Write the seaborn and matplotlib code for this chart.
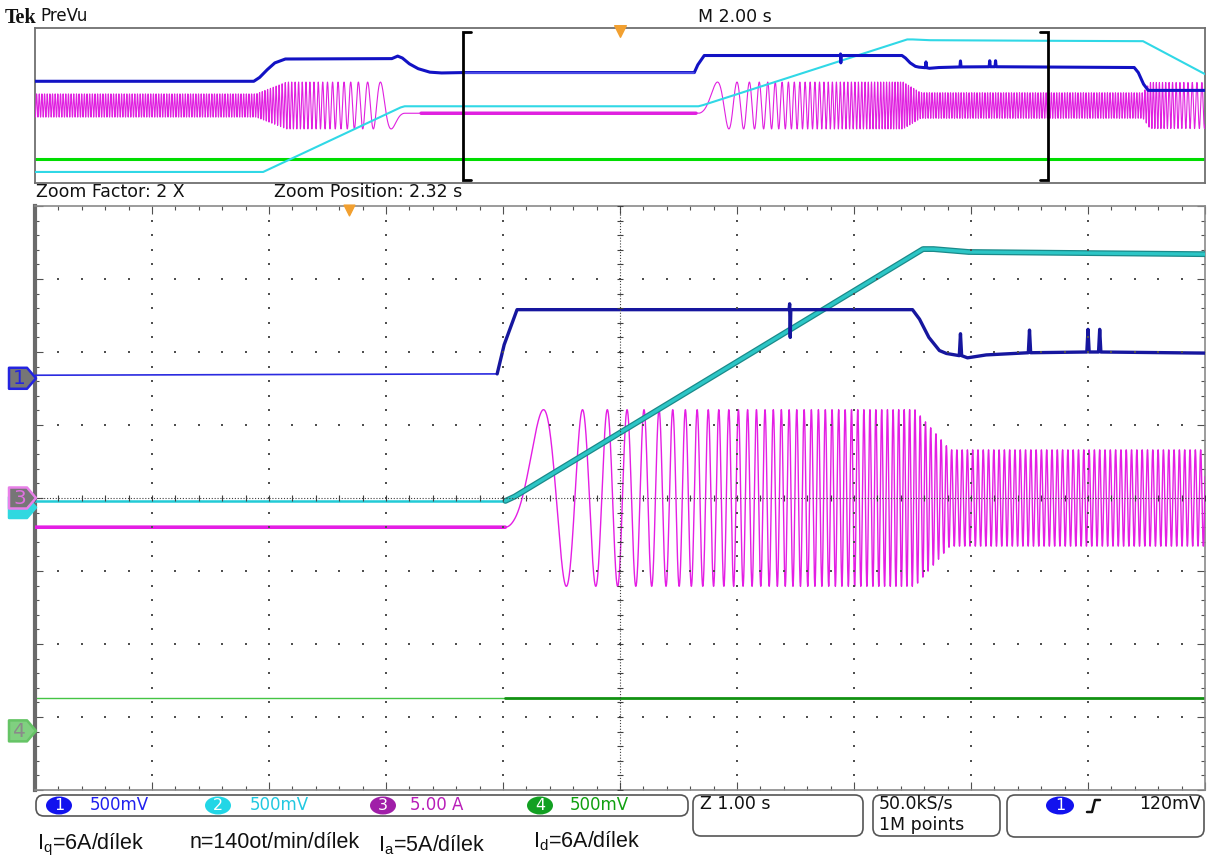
import numpy as np
import matplotlib
matplotlib.use("Agg")
import matplotlib.pyplot as plt
import matplotlib.patheffects as pe
from matplotlib.patches import FancyBboxPatch, Ellipse, Polygon
import seaborn as sns

# ------------------------------------------------------------------ data
# time in seconds (whole record 0..20 s, trigger at 10 s); levels in screen divisions
record_len = 20.0
trig_t = 10.0
overview_scale = 2.00      # s/div  (M 2.00 s)
main_scale = 1.00          # s/div  (Z 1.00 s)
zoom_factor = 2
zoom_position = 2.32       # s

# channel 1 (Iq, dark blue)
blue_t = [0.0, 3.74, 3.84, 3.97, 4.10, 4.28, 6.10, 6.20, 6.28, 6.40, 6.55, 6.75, 6.95,
          11.27, 11.33, 11.44, 13.765, 13.77, 13.775, 13.78, 14.82, 14.88, 14.96, 15.05,
          15.11, 15.22, 15.23, 15.24, 15.29, 15.45, 15.81, 15.82, 15.83, 16.31, 16.32,
          16.33, 16.41, 16.42, 16.43, 18.79, 18.86, 18.95, 19.03, 20.0]
blue_v = [1.25, 1.25, 1.45, 1.85, 2.20, 2.40, 2.42, 2.55, 2.45, 2.15, 1.90, 1.72, 1.68,
          1.70, 2.10, 2.58, 2.58, 2.66, 2.20, 2.58, 2.58, 2.45, 2.20, 2.02,
          1.98, 1.95, 2.25, 1.95, 1.92, 1.96, 1.99, 2.30, 1.99, 2.00, 2.31,
          2.00, 2.00, 2.31, 2.00, 1.96, 1.70, 1.10, 0.78, 0.78]

# channel 2 (speed n, cyan)
cyan_t = [0.0, 3.90, 6.25, 6.32, 11.34, 11.42, 14.91, 15.00, 15.30, 17.32, 18.94, 20.0]
cyan_v = [-3.43, -3.43, -0.10, -0.04, -0.04, 0.02, 3.41, 3.41, 3.37, 3.34, 3.32, 1.62]

# channel 4 (Id, green); noisy after the start at 11.34 s
green_t = [0.0, 11.34, 20.0]
green_v = [-2.74, -2.74, -2.74]

# channel 3 (phase current Ia, magenta): amplitude envelope and read-off constants
mag_env_t = [0.0, 3.78, 4.30, 14.84, 15.14, 18.94, 19.06, 20.0]
mag_env_a = [0.60, 0.60, 1.21, 1.21, 0.66, 0.66, 1.19, 1.19]
mag_rest = -0.40           # level while the motor stands still
mag_hz_per_div = 6.5       # electrical Hz per division of the speed trace
speed_zero = -0.04         # speed trace level at standstill
t_still = 9.0

# channel ground markers at the left edge (label, level in divisions)
marker_names = ["", "1", "3", "4"]
marker_levels = [-0.13, 1.64, 0.0, -3.19]
marker_face = ["#30d8e0", "#767676", "#767676", "#80d080"]
marker_edge = ["#30d8e0", "#2424e0", "#e880e8", "#66c466"]
marker_txt = ["#30d8e0", "#2424e0", "#e070e0", "#8a8a8a"]

# status bar
ch_labels = ["1", "2", "3", "4"]
ch_scales = ["500mV", "500mV", "5.00 A", "500mV"]
ch_badge = ["#1212ee", "#22d6e6", "#a01ea8", "#12a022"]
ch_text = ["#2020ee", "#22c8e0", "#b81eb8", "#10a010"]
sample_rate = "50.0kS/s"
record_pts = "1M points"
trig_level = "120mV"
notes = [r"I$_{\mathrm{q}}$=6A/dílek", "n=140ot/min/dílek",
         r"I$_{\mathrm{a}}$=5A/dílek", r"I$_{\mathrm{d}}$=6A/dílek"]

# ------------------------------------------------------------------ derived magenta trace
tg = np.linspace(0.0, record_len, 40001)
dtg = tg[1] - tg[0]
speed = np.interp(tg, cyan_t, cyan_v) - speed_zero
cum = np.cumsum(speed) * dtg
cum -= np.interp(t_still, tg, cum)
amp = np.interp(tg, mag_env_t, mag_env_a)
a_still = np.interp(t_still, mag_env_t, mag_env_a)
phi_acc = np.arcsin(mag_rest / a_still)
phi_dec = np.pi - phi_acc
phase = np.where(tg < t_still, phi_dec, phi_acc) + 2 * np.pi * mag_hz_per_div * cum
mag = amp * np.sin(phase)

win_c = trig_t + zoom_position
win0 = win_c - 5 * main_scale
win1 = win_c + 5 * main_scale

# ------------------------------------------------------------------ figure
sns.set_theme(style="white")
plt.rcParams["font.family"] = ["DejaVu Sans"]
plt.rcParams["mathtext.fontset"] = "custom"
plt.rcParams["mathtext.rm"] = "Liberation Sans"
plt.rcParams["mathtext.it"] = "Liberation Sans:italic"

W, H = 1211, 856
fig = plt.figure(figsize=(W / 100, H / 100), dpi=100)
fig.patch.set_facecolor("white")

MAIN_PX = (35, 206, 1205, 790)
OV_PX = (35, 28, 1205, 183)


def fig_axes(x0, y0, x1, y1):
    return fig.add_axes([x0 / W, 1 - y1 / H, (x1 - x0) / W, (y1 - y0) / H])


ax_ov = fig_axes(*OV_PX)
ax = fig_axes(*MAIN_PX)


def trace(axis, t, v, color, lw, z, **kw):
    sns.lineplot(x=np.asarray(t, float), y=np.asarray(v, float), ax=axis, color=color,
                 linewidth=lw, estimator=None, sort=False, zorder=z, legend=False, **kw)


bt = np.asarray(blue_t)
bv = np.asarray(blue_v)
t_blue_rise = 11.27
t_start = green_t[1]

# ---------------- overview (PreVu)
trace(ax_ov, green_t, green_v, "#00dd00", 2.2, 2)
trace(ax_ov, tg, mag, "#e020e0", 0.8, 3)
still = (tg > 6.6) & (tg < 11.3)
trace(ax_ov, tg[still], mag[still], "#e020e0", 2.5, 3)
trace(ax_ov, cyan_t, cyan_v, "#30d8e6", 1.5, 4)
m1 = bt <= win0 + 0.01
trace(ax_ov, np.append(bt[m1], win0), np.append(bv[m1], 1.70), "#1212c4", 2.2, 5)
m2 = (bt >= t_blue_rise)
trace(ax_ov, np.insert(bt[m2], 0, win0), np.insert(bv[m2], 0, 1.70), "#1212c4", 2.2, 5)
trace(ax_ov, [win0, t_blue_rise], [1.70, 1.70], "#5555ee", 1.2, 5)
ax_ov.plot([win0 + 0.14, win0, win0, win0 + 0.14], [3.78, 3.78, -3.85, -3.85],
           color="black", lw=2, zorder=8, solid_joinstyle="miter")
ax_ov.plot([win1 - 0.14, win1, win1, win1 - 0.14], [3.78, 3.78, -3.85, -3.85],
           color="black", lw=2, zorder=8, solid_joinstyle="miter")
ax_ov.scatter([trig_t], [3.82], marker="v", s=70, color="#f2a030", zorder=9, clip_on=False)
ax_ov.set_xlim(0, record_len)
ax_ov.set_ylim(-4, 4)
ax_ov.set_xticks([])
ax_ov.set_yticks([])
ax_ov.set_xlabel("")
ax_ov.set_ylabel("")
for s in ax_ov.spines.values():
    s.set_color("#707070")
    s.set_linewidth(1.3)

# ---------------- main (zoomed) window
trace(ax, [green_t[0], green_t[1]], [green_v[0], green_v[1]], "#44c444", 1.0, 2)
trace(ax, [green_t[1], green_t[2]], [green_v[1], green_v[2]], "#129212", 2.0, 2)
sel = (tg >= win0 - 0.1) & (tg <= win1 + 0.1)
trace(ax, tg[sel], mag[sel], "#e41ee4", 1.0, 3)
still2 = (tg >= win0 - 0.1) & (tg < t_start)
trace(ax, tg[still2], mag[still2], "#e41ee4", 2.6, 3)
ct = np.asarray(cyan_t)
cv = np.asarray(cyan_v)
k0 = ct < t_start + 0.01
trace(ax, ct[k0], cv[k0], "#22cbd6", 1.8, 4)
k1 = ct >= t_start
trace(ax, ct[k1], cv[k1], "#2cc6c6", 2.4, 4,
      path_effects=[pe.Stroke(linewidth=4.2, foreground="#1a8a8a"), pe.Normal()])
b0 = bt <= t_blue_rise
trace(ax, bt[b0], bv[b0], "#2a2ae0", 1.2, 5)
b1 = bt >= t_blue_rise
trace(ax, bt[b1], bv[b1], "#16169e", 2.4, 5)

xmaj = win0 + np.arange(0, 11) * main_scale
xmin = win0 + np.arange(0, 51) * 0.2 * main_scale
ymaj = np.arange(-4, 5)
ymin = np.round(np.arange(-4, 4.001, 0.2), 3)

inner_x = [x for x in xmaj[1:-1] if abs(x - win_c) > 1e-6]
inner_y = [y for y in ymaj[1:-1] if y != 0]
X, Y = np.meshgrid(inner_x, ymin[1:-1])
ax.scatter(X.ravel(), Y.ravel(), s=2.2, marker="s", color="#505050", linewidths=0, zorder=6)
X, Y = np.meshgrid(xmin[1:-1], inner_y)
ax.scatter(X.ravel(), Y.ravel(), s=2.2, marker="s", color="#505050", linewidths=0, zorder=6)
ax.axhline(0, color="#404040", lw=0.8, ls=(0, (1, 1.6)), zorder=6)
ax.axvline(win_c, color="#404040", lw=0.8, ls=(0, (1, 1.6)), zorder=6)
ax.scatter(xmin, np.zeros_like(xmin), marker="|", s=22, color="#404040", linewidths=0.8, zorder=6)
ax.scatter(np.full_like(ymin, win_c), ymin, marker="_", s=22, color="#404040", linewidths=0.8, zorder=6)

ax.set_xlim(win0, win1)
ax.set_ylim(-4, 4)
ax.set_xticks(xmaj)
ax.set_xticks(xmin, minor=True)
ax.set_yticks(ymaj)
ax.set_yticks(ymin, minor=True)
ax.tick_params(which="both", direction="in", top=True, right=True, bottom=True, left=True,
               labelbottom=False, labelleft=False, color="#505050", width=0.8)
ax.tick_params(which="major", length=6)
ax.tick_params(which="minor", length=3)
ax.set_xlabel("")
ax.set_ylabel("")
for s in ax.spines.values():
    s.set_color("#8a8a8a")
    s.set_linewidth(1.2)
ax.spines["left"].set_color("#6a6a6a")
ax.spines["left"].set_linewidth(3)

ax.scatter([trig_t], [3.94], marker="v", s=60, color="#f2a030", zorder=9, clip_on=False)

# ---------------- overlay: markers, texts and status bar (pixel coordinates)
ov = fig.add_axes([0, 0, 1, 1])
ov.set_xlim(0, W)
ov.set_ylim(H, 0)
ov.axis("off")
ov.patch.set_alpha(0)
ov.set_zorder(20)


def level_to_px(level):
    return MAIN_PX[1] + (4 - level) / 8 * (MAIN_PX[3] - MAIN_PX[1])


for i, (nm, lv) in enumerate(zip(marker_names, marker_levels)):
    yc = level_to_px(lv)
    pts = [(9, yc - 10.5), (27, yc - 10.5), (36, yc), (27, yc + 10.5), (9, yc + 10.5)]
    ov.add_patch(Polygon(pts, closed=True, fc=marker_face[i], ec=marker_edge[i], lw=1.8,
                         joinstyle="round", zorder=2 + i))
    if nm:
        ov.text(19.5, yc + 0.5, nm, color=marker_txt[i], fontsize=14.5, ha="center", va="center",
                zorder=10 + i)

ov.text(5, 18, "Tek", fontfamily="Liberation Serif", fontweight="bold", fontsize=14.5,
        va="center", ha="left", color="#111111")
ov.text(40, 16, "PreVu", fontsize=12, va="center", ha="left", color="#111111")
ov.text(698, 17, f"M {overview_scale:.2f} s", fontsize=12.5, va="center", ha="left", color="#111111")
ov.text(36, 192, f"Zoom Factor: {zoom_factor} X", fontsize=12.5, va="center", ha="left", color="#111111")
ov.text(274, 192, f"Zoom Position: {zoom_position:.2f} s", fontsize=12.5, va="center", ha="left",
        color="#111111")

boxes = [(36, 795, 652, 21), (693, 795, 170, 41), (873, 795, 127, 41), (1007, 795, 197, 42)]
for (x0, y0, w, h) in boxes:
    ov.add_patch(FancyBboxPatch((x0, y0), w, h, boxstyle="round,pad=0,rounding_size=8",
                                fc="white", ec="#555555", lw=1.2))

badge_x = [59, 218, 383, 540]
text_x = [90, 250, 410, 570]
for i in range(4):
    ov.add_patch(Ellipse((badge_x[i], 805.5), 26, 18, fc=ch_badge[i], ec="none"))
    ov.text(badge_x[i], 805.5, ch_labels[i], color="white", fontsize=11.5, ha="center", va="center")
    ov.text(text_x[i], 805, ch_scales[i], color=ch_text[i], fontsize=12, ha="left", va="center")

ov.text(700, 804, f"Z {main_scale:.2f} s", fontsize=12.5, ha="left", va="center", color="#111111")
ov.text(879, 804, sample_rate, fontsize=12.5, ha="left", va="center", color="#111111")
ov.text(879, 825, record_pts, fontsize=12.5, ha="left", va="center", color="#111111")
ov.add_patch(Ellipse((1060, 805.5), 28, 18, fc=ch_badge[0], ec="none"))
ov.text(1060, 805.5, "1", color="white", fontsize=11.5, ha="center", va="center")
ov.plot([1087, 1092, 1095, 1100], [812, 812, 800, 800], color="#111111", lw=1.8)
ov.text(1201, 804, trig_level, fontsize=12.5, ha="right", va="center", color="#111111")

note_x = [37, 190, 378, 533]
note_y = [845, 843, 845, 841]
for s, x, y in zip(notes, note_x, note_y):
    ov.text(x, y, s, fontfamily="Liberation Sans", fontsize=15.5, ha="left", va="center",
            color="#111111")

fig.savefig("out.png", dpi=100, facecolor="white")
